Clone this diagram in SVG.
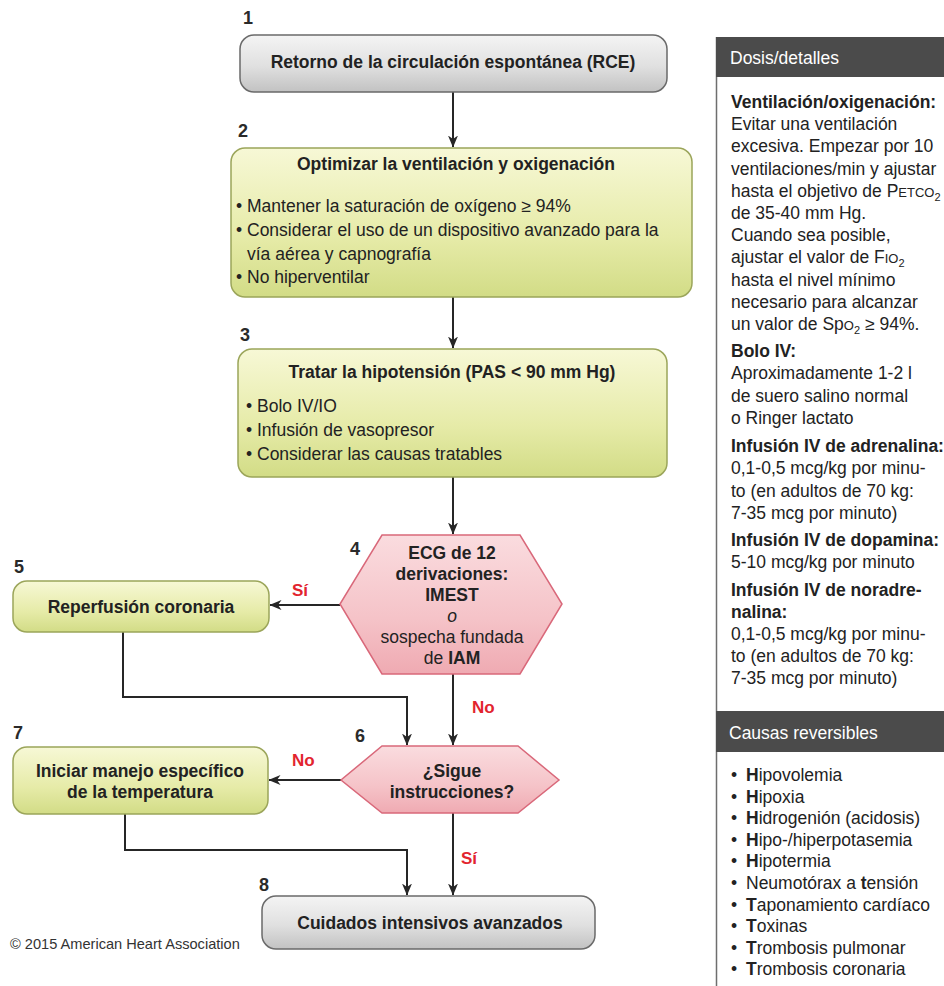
<svg xmlns="http://www.w3.org/2000/svg" width="944" height="986" viewBox="0 0 944 986">
  <defs>
    <linearGradient id="fillGray" x1="0" y1="0" x2="0" y2="1">
      <stop offset="0" stop-color="#f4f4f4"/>
      <stop offset="0.55" stop-color="#e0e0e0"/>
      <stop offset="1" stop-color="#c2c2c2"/>
    </linearGradient>
    <linearGradient id="fillYellow" x1="0" y1="0" x2="0" y2="1">
      <stop offset="0" stop-color="#f7f8d6"/>
      <stop offset="0.6" stop-color="#e6eba8"/>
      <stop offset="1" stop-color="#d2dc86"/>
    </linearGradient>
    <linearGradient id="fillPink" x1="0" y1="0" x2="0" y2="1">
      <stop offset="0" stop-color="#fadcdf"/>
      <stop offset="0.6" stop-color="#f5c3c8"/>
      <stop offset="1" stop-color="#efaab2"/>
    </linearGradient>
    <marker id="arrow" viewBox="0 0 12 12" markerWidth="12" markerHeight="12" refX="11.5" refY="6" orient="auto" markerUnits="userSpaceOnUse">
      <path d="M0,1 L12,6 L0,11 L3.5,6 Z" fill="#262626"/>
    </marker>
  </defs>
  <style>
    text { font-family: "Liberation Sans", Arial, Helvetica, sans-serif; fill: #222; }
    .title { font-size: 17.5px; font-weight: bold; }
    .body { font-size: 17.5px; }
    .bold { font-weight: bold; }
    .num { font-size: 18px; font-weight: bold; fill: #2a2a2a; }
    .lbl { font-size: 17px; font-weight: bold; fill: #e2242e; }
    .mid { text-anchor: middle; }
    .sc { font-size: 13px; }
    .sub { font-size: 11px; }
    .head { font-size: 17.5px; fill: #ffffff; }
    .copy { font-size: 14.6px; fill: #333; }
    .box-gray { fill: url(#fillGray); stroke: #6a6a6a; stroke-width: 1.5; }
    .box-yellow { fill: url(#fillYellow); stroke: #9ba55a; stroke-width: 1.5; }
    .hex { fill: url(#fillPink); stroke: #d9687a; stroke-width: 1.5; }
    .edge { fill: none; stroke: #262626; stroke-width: 2; marker-end: url(#arrow); }
  </style>

  <rect width="944" height="986" fill="#ffffff"/>

  <!-- connectors -->
  <g id="connectors">
    <path class="edge" d="M453,92 V147"/>
    <path class="edge" d="M453,297 V348"/>
    <path class="edge" d="M453,477 V534"/>
    <path class="edge" d="M340,605 H270"/>
    <path class="edge" d="M123,632 V697 H407 V745"/>
    <path class="edge" d="M453,674 V745"/>
    <path class="edge" d="M341,780 H269"/>
    <path class="edge" d="M125,814 V850 H407 V895"/>
    <path class="edge" d="M453,813 V895"/>
    <text class="lbl" x="292" y="596">Sí</text>
    <text class="lbl" x="472" y="713">No</text>
    <text class="lbl" x="292" y="766">No</text>
    <text class="lbl" x="461" y="864">Sí</text>
  </g>

  <!-- 1: ROSC -->
  <g id="node1">
    <text class="num" x="243" y="24">1</text>
    <rect class="box-gray" x="240" y="35" width="427" height="57" rx="14"/>
    <text class="title mid" x="453" y="68">Retorno de la circulación espontánea (RCE)</text>
  </g>

  <!-- 2: ventilation -->
  <g id="node2">
    <text class="num" x="238" y="137">2</text>
    <rect class="box-yellow" x="231" y="148" width="461" height="149" rx="14"/>
    <text class="title mid" x="456" y="170">Optimizar la ventilación y oxigenación</text>
    <text class="body" x="236" y="212">•</text>
    <text class="body" x="247" y="212">Mantener la saturación de oxígeno ≥ 94%</text>
    <text class="body" x="236" y="236">•</text>
    <text class="body" x="247" y="236">Considerar el uso de un dispositivo avanzado para la</text>
    <text class="body" x="247" y="260">vía aérea y capnografía</text>
    <text class="body" x="236" y="283">•</text>
    <text class="body" x="247" y="283">No hiperventilar</text>
  </g>

  <!-- 3: hypotension -->
  <g id="node3">
    <text class="num" x="240" y="341">3</text>
    <rect class="box-yellow" x="238" y="349" width="429" height="128" rx="14"/>
    <text class="title mid" x="452" y="378">Tratar la hipotensión (PAS &lt; 90 mm Hg)</text>
    <text class="body" x="246" y="412">•</text>
    <text class="body" x="257" y="412">Bolo IV/IO</text>
    <text class="body" x="246" y="436">•</text>
    <text class="body" x="257" y="436">Infusión de vasopresor</text>
    <text class="body" x="246" y="460">•</text>
    <text class="body" x="257" y="460">Considerar las causas tratables</text>
  </g>

  <!-- 4: 12-lead ECG decision -->
  <g id="node4">
    <text class="num" x="350" y="555">4</text>
    <polygon class="hex" points="382,535 520,535 562,604 520,674 382,674 340,604"/>
    <text class="title mid" x="452" y="559">ECG de 12</text>
    <text class="title mid" x="452" y="580">derivaciones:</text>
    <text class="title mid" x="452" y="601">IMEST</text>
    <text class="body mid" x="452" y="622" font-style="italic">o</text>
    <text class="body mid" x="452" y="643">sospecha fundada</text>
    <text class="body mid" x="452" y="664">de <tspan class="bold">IAM</tspan></text>
  </g>

  <!-- 5: reperfusion -->
  <g id="node5">
    <text class="num" x="14" y="573">5</text>
    <rect class="box-yellow" x="13" y="581" width="256" height="51" rx="14"/>
    <text class="title mid" x="141" y="613">Reperfusión coronaria</text>
  </g>

  <!-- 6: follows commands decision -->
  <g id="node6">
    <text class="num" x="355" y="742">6</text>
    <polygon class="hex" points="382,746 518,746 559,780 518,813 382,813 341,780"/>
    <text class="title mid" x="452" y="777">¿Sigue</text>
    <text class="title mid" x="452" y="798">instrucciones?</text>
  </g>

  <!-- 7: temperature management -->
  <g id="node7">
    <text class="num" x="13" y="739">7</text>
    <rect class="box-yellow" x="13" y="747" width="255" height="67" rx="14"/>
    <text class="title mid" x="140" y="777">Iniciar manejo específico</text>
    <text class="title mid" x="140" y="798">de la temperatura</text>
  </g>

  <!-- 8: advanced critical care -->
  <g id="node8">
    <text class="num" x="259" y="891">8</text>
    <rect class="box-gray" x="262" y="896" width="333" height="53" rx="14"/>
    <text class="title mid" x="430" y="929">Cuidados intensivos avanzados</text>
  </g>

  <text class="copy" x="10" y="949">© 2015 American Heart Association</text>

  <!-- side panel: doses and details -->
  <g id="panel-doses">
    <line x1="716.5" y1="37" x2="716.5" y2="986" stroke="#6e6e6e" stroke-width="1.5"/>
    <rect x="716" y="37" width="228" height="40" fill="#4b4b4b"/>
    <text class="head" x="730" y="64">Dosis/detalles</text>

    <text class="body bold" x="731" y="108">Ventilación/oxigenación:</text>
    <text class="body" x="731" y="130">Evitar una ventilación</text>
    <text class="body" x="731" y="152">excesiva. Empezar por 10</text>
    <text class="body" x="731" y="175">ventilaciones/min y ajustar</text>
    <text class="body" x="731" y="197">hasta el objetivo de P<tspan class="sc">ETCO</tspan><tspan class="sub" dy="4">2</tspan></text>
    <text class="body" x="731" y="219">de 35-40 mm Hg.</text>
    <text class="body" x="731" y="241">Cuando sea posible,</text>
    <text class="body" x="731" y="263">ajustar el valor de F<tspan class="sc">IO</tspan><tspan class="sub" dy="4">2</tspan></text>
    <text class="body" x="731" y="286">hasta el nivel mínimo</text>
    <text class="body" x="731" y="308">necesario para alcanzar</text>
    <text class="body" x="731" y="330">un valor de Sp<tspan class="sc">O</tspan><tspan class="sub" dy="4">2</tspan><tspan dy="-4"> ≥ 94%.</tspan></text>

    <text class="body bold" x="731" y="357">Bolo IV:</text>
    <text class="body" x="731" y="379">Aproximadamente 1-2 l</text>
    <text class="body" x="731" y="402">de suero salino normal</text>
    <text class="body" x="731" y="424">o Ringer lactato</text>

    <text class="body bold" x="731" y="452">Infusión IV de adrenalina:</text>
    <text class="body" x="731" y="474">0,1-0,5 mcg/kg por minu-</text>
    <text class="body" x="731" y="497">to (en adultos de 70 kg:</text>
    <text class="body" x="731" y="519">7-35 mcg por minuto)</text>

    <text class="body bold" x="731" y="546">Infusión IV de dopamina:</text>
    <text class="body" x="731" y="568">5-10 mcg/kg por minuto</text>

    <text class="body bold" x="731" y="596">Infusión IV de noradre-</text>
    <text class="body bold" x="731" y="618">nalina:</text>
    <text class="body" x="731" y="640">0,1-0,5 mcg/kg por minu-</text>
    <text class="body" x="731" y="662">to (en adultos de 70 kg:</text>
    <text class="body" x="731" y="684">7-35 mcg por minuto)</text>
  </g>

  <!-- side panel: reversible causes -->
  <g id="panel-causes">
    <rect x="716" y="711" width="228" height="41" fill="#4b4b4b"/>
    <text class="head" x="729" y="739">Causas reversibles</text>
    <g class="body">
      <text class="body" x="731" y="781">•</text><text class="body" x="746" y="781"><tspan class="bold">H</tspan>ipovolemia</text>
      <text class="body" x="731" y="803">•</text><text class="body" x="746" y="803"><tspan class="bold">H</tspan>ipoxia</text>
      <text class="body" x="731" y="824">•</text><text class="body" x="746" y="824"><tspan class="bold">H</tspan>idrogenión (acidosis)</text>
      <text class="body" x="731" y="846">•</text><text class="body" x="746" y="846"><tspan class="bold">H</tspan>ipo-/hiperpotasemia</text>
      <text class="body" x="731" y="867">•</text><text class="body" x="746" y="867"><tspan class="bold">H</tspan>ipotermia</text>
      <text class="body" x="731" y="889">•</text><text class="body" x="746" y="889">Neumotórax a <tspan class="bold">t</tspan>ensión</text>
      <text class="body" x="731" y="911">•</text><text class="body" x="746" y="911"><tspan class="bold">T</tspan>aponamiento cardíaco</text>
      <text class="body" x="731" y="932">•</text><text class="body" x="746" y="932"><tspan class="bold">T</tspan>oxinas</text>
      <text class="body" x="731" y="954">•</text><text class="body" x="746" y="954"><tspan class="bold">T</tspan>rombosis pulmonar</text>
      <text class="body" x="731" y="975">•</text><text class="body" x="746" y="975"><tspan class="bold">T</tspan>rombosis coronaria</text>
    </g>
  </g>
</svg>
